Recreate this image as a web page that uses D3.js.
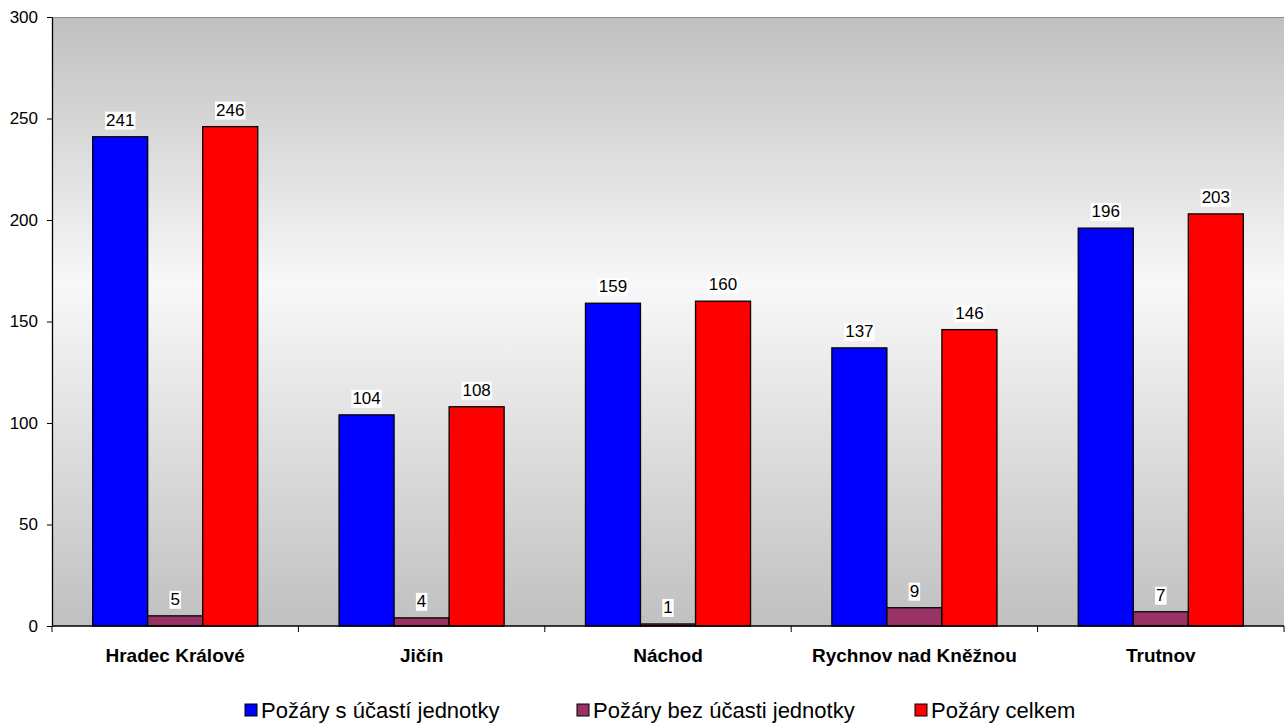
<!DOCTYPE html>
<html>
<head>
<meta charset="utf-8">
<script src="https://cdn.jsdelivr.net/npm/d3@7"></script>
<style>
  body { margin: 0; background: #fff; }
  text { font-family: Arial, "Liberation Sans", sans-serif; }
</style>
</head>
<body>
<div id="chart"></div>
<script>
// data
const categories = ['Hradec Králové', 'Jičín', 'Náchod', 'Rychnov nad Kněžnou', 'Trutnov'];
const seriesNames = ['Požáry s účastí jednotky', 'Požáry bez účasti jednotky', 'Požáry celkem'];
const seriesColors = ['#0000ff', '#993366', '#ff0000'];
const withUnit = [241, 104, 159, 137, 196];
const withoutUnit = [5, 4, 1, 9, 7];
const total = [246, 108, 160, 146, 203];
const yTicks = [0, 50, 100, 150, 200, 250, 300];

const series = [withUnit, withoutUnit, total];

const W = 1287, H = 725;
const plotLeft = 52, plotRight = 1284, plotTop = 17, plotBottom = 626;

const svg = d3.select('#chart').append('svg').attr('width', W).attr('height', H);

// plot background gradient (grey - light - grey)
const defs = svg.append('defs');
const grad = defs.append('linearGradient').attr('id', 'bg')
  .attr('x1', 0).attr('y1', 0).attr('x2', 0).attr('y2', 1);
grad.append('stop').attr('offset', '0%').attr('stop-color', '#c0c0c0');
grad.append('stop').attr('offset', '44%').attr('stop-color', '#f8f8f8');
grad.append('stop').attr('offset', '100%').attr('stop-color', '#c0c0c0');

const x0 = d3.scaleBand().domain(categories).range([plotLeft, plotRight]).paddingInner(0.33).paddingOuter(0.165);
const x1 = d3.scaleBand().domain(d3.range(series.length)).range([0, x0.bandwidth()]);
const y = d3.scaleLinear().domain([0, 300]).range([plotBottom, plotTop]);

svg.append('rect')
  .attr('x', plotLeft).attr('y', plotTop)
  .attr('width', plotRight - plotLeft).attr('height', plotBottom - plotTop)
  .attr('fill', 'url(#bg)');

svg.append('line')
  .attr('x1', plotLeft).attr('x2', plotRight).attr('y1', plotTop + 0.5).attr('y2', plotTop + 0.5)
  .attr('stroke', '#8c8c8c').attr('stroke-width', 1);

// bars
const groups = svg.selectAll('.grp')
  .data(categories)
  .join('g')
  .attr('class', 'grp')
  .attr('transform', d => `translate(${x0(d)},0)`);

groups.selectAll('rect')
  .data((d, i) => series.map((s, k) => ({ k, v: s[i] })))
  .join('rect')
  .attr('x', d => x1(d.k))
  .attr('y', d => y(d.v))
  .attr('width', x1.bandwidth())
  .attr('height', d => y(0) - y(d.v))
  .attr('fill', d => seriesColors[d.k])
  .attr('stroke', '#000')
  .attr('stroke-width', 1.3);

// value labels with white background
const labels = groups.selectAll('g.lbl')
  .data((d, i) => series.map((s, k) => ({ k, v: s[i] })))
  .join('g')
  .attr('class', 'lbl')
  .attr('transform', d => `translate(${x1(d.k) + x1.bandwidth() / 2},${y(d.v) - 17})`);

labels.each(function (d) {
  const g = d3.select(this);
  const t = g.append('text')
    .attr('text-anchor', 'middle')
    .attr('dy', '0.35em')
    .style('font-size', '17px')
    .attr('fill', '#000')
    .text(d.v);
  const bb = t.node().getBBox();
  g.insert('rect', 'text')
    .attr('x', bb.x - 1).attr('y', bb.y + 1)
    .attr('width', bb.width + 2).attr('height', bb.height - 1)
    .attr('fill', '#fff');
});

// y axis
const yAxis = d3.axisLeft(y).tickValues(yTicks).tickSize(5).tickSizeOuter(0).tickPadding(9);
const ya = svg.append('g').attr('transform', `translate(${plotLeft},0)`).call(yAxis);
ya.selectAll('text').style('font-size', '17px').attr('fill', '#000');
ya.selectAll('line').attr('stroke', '#000');
ya.select('.domain').attr('stroke', '#000').attr('stroke-width', 1.3);

// x axis: baseline and ticks at category boundaries
const step = x0.step();
const bounds = d3.range(categories.length + 1).map(i => plotLeft + i * step);
svg.append('line')
  .attr('x1', plotLeft).attr('x2', plotRight).attr('y1', plotBottom).attr('y2', plotBottom)
  .attr('stroke', '#000').attr('stroke-width', 1.3);
svg.selectAll('.xtick')
  .data(bounds)
  .join('line')
  .attr('class', 'xtick')
  .attr('x1', d => d).attr('x2', d => d)
  .attr('y1', plotBottom).attr('y2', plotBottom + 6)
  .attr('stroke', '#000');

svg.selectAll('.xlab')
  .data(categories)
  .join('text')
  .attr('class', 'xlab')
  .attr('x', d => x0(d) + x0.bandwidth() / 2)
  .attr('y', 655)
  .attr('dy', '0.35em')
  .attr('text-anchor', 'middle')
  .style('font-size', '19px')
  .style('font-weight', 'bold')
  .text(d => d);

// legend
const legendX = [245, 577, 915];
const legend = svg.selectAll('.leg')
  .data(seriesNames)
  .join('g')
  .attr('class', 'leg')
  .attr('transform', (d, i) => `translate(${legendX[i]},710)`);
legend.append('rect')
  .attr('x', 0).attr('y', -6)
  .attr('width', 12).attr('height', 12)
  .attr('fill', (d, i) => seriesColors[i])
  .attr('stroke', '#000').attr('stroke-width', 1);
legend.append('text')
  .attr('x', 16)
  .attr('dy', '0.35em')
  .style('font-size', '22px')
  .text(d => d);
</script>
</body>
</html>
